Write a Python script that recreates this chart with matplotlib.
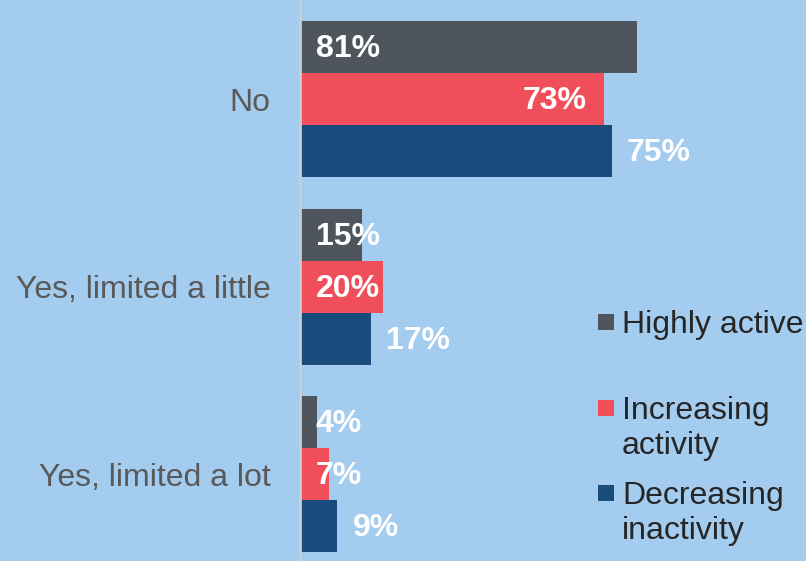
import matplotlib
matplotlib.use("Agg")
import matplotlib.pyplot as plt
from matplotlib.patches import Rectangle

categories = ["No", "Yes, limited a little", "Yes, limited a lot"]
series_names = ["Highly active", "Increasing activity", "Decreasing inactivity"]
legend_labels = ["Highly active", "Increasing\nactivity", "Decreasing\ninactivity"]
highly_active = [81, 15, 4]
increasing_activity = [73, 20, 7]
decreasing_inactivity = [75, 17, 9]

colors = ["#4F555C", "#F04E5A", "#174C7C"]
bg = "#A3CCEF"

plt.rcParams['font.family'] = ['Liberation Sans', 'DejaVu Sans']
FS = 23

fig = plt.figure(figsize=(8.06, 5.61), dpi=100)
fig.patch.set_facecolor(bg)
ax = fig.add_axes([300/806, 0, 416/806, 1])
ax.set_facecolor(bg)
ax.patch.set_alpha(0)

series = [highly_active, increasing_activity, decreasing_inactivity]
bh = 0.277
offsets = [-bh, 0, bh]
dy = -2
for s, (vals, col, off) in enumerate(zip(series, colors, offsets)):
    ys = [i + off for i in range(len(categories))]
    ax.barh(ys, vals, height=bh, color=col, edgecolor='none')
    for y, v in zip(ys, vals):
        txt = f"{v}%"
        if s == 0:
            ax.annotate(txt, (0, y), xytext=(16, dy), textcoords='offset pixels',
                        ha='left', va='center', color='white', fontsize=FS, fontweight='bold')
        elif s == 1:
            if v > 50:
                ax.annotate(txt, (v, y), xytext=(-17, dy), textcoords='offset pixels',
                            ha='right', va='center', color='white', fontsize=FS, fontweight='bold')
            else:
                ax.annotate(txt, (0, y), xytext=(16, dy), textcoords='offset pixels',
                            ha='left', va='center', color='white', fontsize=FS, fontweight='bold')
        else:
            ax.annotate(txt, (v, y), xytext=(15, dy), textcoords='offset pixels',
                        ha='left', va='center', color='white', fontsize=FS, fontweight='bold')

ax.set_xlim(0, 100)
ax.set_ylim(2.464, -0.53)
ax.set_yticks(range(len(categories)))
ax.set_yticklabels(categories, fontsize=FS, color='#595959')
ax.tick_params(axis='y', length=0, pad=21)
ax.set_xticks([])
for sp in ['top', 'right', 'bottom']:
    ax.spines[sp].set_visible(False)
ax.spines['left'].set_color('#C9CED3')
ax.spines['left'].set_linewidth(2)

# legend
legend_y = [322, 408, 493]
for lab, col, yp in zip(legend_labels, colors, legend_y):
    fig.patches.append(Rectangle((598/806, 1 - (yp + 8)/561), 16/806, 16/561,
                                 transform=fig.transFigure, facecolor=col, edgecolor='none'))
    fig.text(622/806, 1 - (yp - 12)/561, lab, ha='left', va='top', fontsize=FS,
             color='#262626', linespacing=1.22)

fig.savefig("out.png", dpi=100, facecolor=bg)
